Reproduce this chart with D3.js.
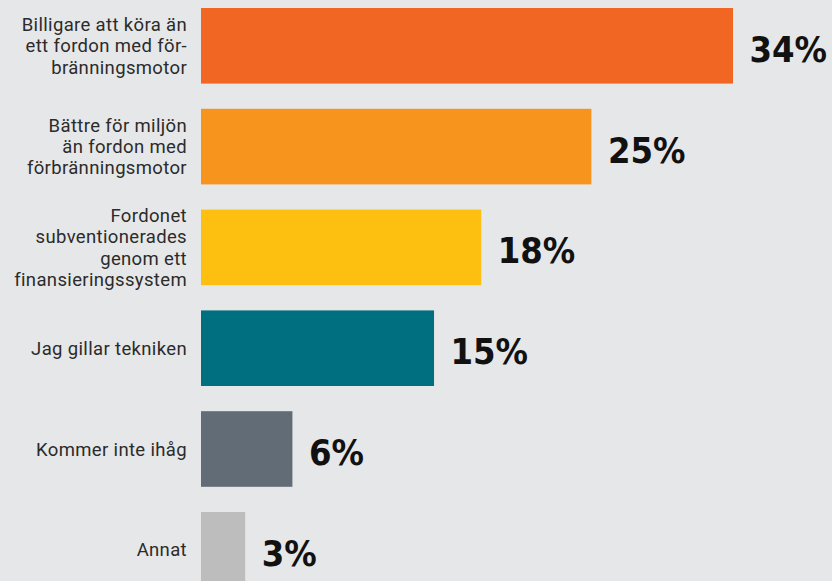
<!DOCTYPE html>
<html>
<head>
<meta charset="utf-8">
<script src="https://cdn.jsdelivr.net/npm/d3@7"></script>
<style>
	html, body { margin: 0; padding: 0; background: #e6e7e8; overflow: hidden; }
	.cat { font-family: Roboto, "Noto Sans", sans-serif; font-size: 18.5px; letter-spacing: 0.35px; fill: #2b2b2b; }
	.val { font-family: "DejaVu Sans Condensed", "DejaVu Sans", sans-serif; font-stretch: condensed; font-weight: bold; font-size: 36px; fill: #111; }
</style>
</head>
<body>
<div id="chart-area"></div>
<script>
// Data
let categories = [
	["Billigare att köra än", "ett fordon med för-", "bränningsmotor"],
	["Bättre för miljön", "än fordon med", "förbränningsmotor"],
	["Fordonet", "subventionerades", "genom ett", "finansieringssystem"],
	["Jag gillar tekniken"],
	["Kommer inte ihåg"],
	["Annat"]
];
let values = [34, 25, 18, 15, 6, 3];
let valueLabels = ["34%", "25%", "18%", "15%", "6%", "3%"];
let colors = ["#f26624", "#f7941e", "#fdc010", "#006f7f", "#626c77", "#bdbdbd"];

let width = 832;
let height = 581;

let svg = d3.select("#chart-area")
	.append("svg")
	.attr("width", width)
	.attr("height", height);

svg.append("rect")
	.attr("width", width)
	.attr("height", height)
	.attr("fill", "#e6e7e8");

// Scales
let idx = d3.range(values.length);
let y = d3.scaleBand()
	.domain(idx)
	.range([8, 587.6])
	.paddingInner(0.25)
	.paddingOuter(0);
let x = d3.scaleLinear()
	.domain([0, 34])
	.range([198, 733]);
let barLeft = 201;

// Bars
svg.selectAll(".bar")
	.data(idx)
	.enter()
	.append("rect")
	.attr("class", "bar")
	.attr("x", barLeft)
	.attr("y", i => y(i))
	.attr("width", i => x(values[i]) - barLeft)
	.attr("height", y.bandwidth())
	.attr("fill", i => colors[i]);

// Value labels
svg.selectAll(".val")
	.data(idx)
	.enter()
	.append("text")
	.attr("class", "val")
	.attr("x", i => x(values[i]) + 16.5)
	.attr("y", i => y(i) + y.bandwidth() / 2 + 16)
	.text(i => valueLabels[i]);

// Category labels
let lineH = 21.3;
let cats = svg.selectAll(".cat")
	.data(idx)
	.enter()
	.append("text")
	.attr("class", "cat")
	.attr("text-anchor", "end");
cats.each(function(i) {
	let lines = categories[i];
	let mid = y(i) + y.bandwidth() / 2 + 6.5;
	let first = mid - (lines.length - 1) * lineH / 2;
	d3.select(this).selectAll("tspan")
		.data(lines)
		.enter()
		.append("tspan")
		.attr("x", 187)
		.attr("y", (d, j) => first + j * lineH)
		.text(d => d);
});
</script>
</body>
</html>
